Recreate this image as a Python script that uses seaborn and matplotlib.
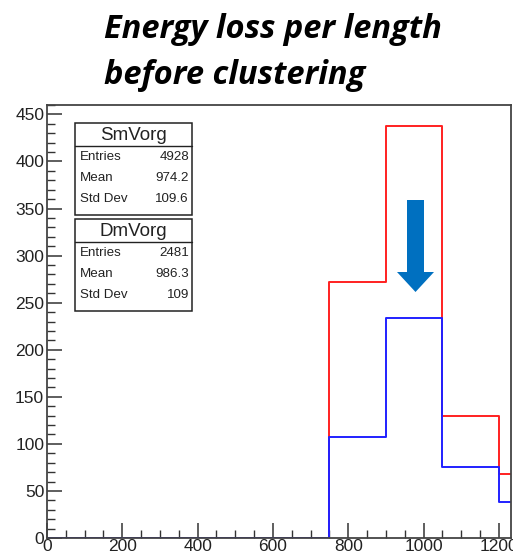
import numpy as np
import pandas as pd
import seaborn as sns
import matplotlib.pyplot as plt
from matplotlib.patches import FancyArrow, Rectangle
from matplotlib.ticker import MultipleLocator

# Binned energy-loss-per-length histograms (bin width 150)
bin_edges = [0, 150, 300, 450, 600, 750, 900, 1050, 1200, 1350]
sm_counts = [0, 0, 0, 0, 0, 272, 438, 130, 68]
dm_counts = [0, 0, 0, 0, 0, 107, 234, 75, 38]

sm_stats = {"name": "SmVorg", "Entries": "4928", "Mean": "974.2", "Std Dev": "109.6"}
dm_stats = {"name": "DmVorg", "Entries": "2481", "Mean": "986.3", "Std Dev": "109"}

title_lines = ["Energy loss per length", "before clustering"]

centers = [(a + b) / 2 for a, b in zip(bin_edges[:-1], bin_edges[1:])]
df = pd.DataFrame({
    "x": centers * 2,
    "w": sm_counts + dm_counts,
    "sample": ["SmVorg"] * len(centers) + ["DmVorg"] * len(centers),
})

sns.set_style("ticks")
plt.rcParams["font.family"] = ["Liberation Sans", "DejaVu Sans"]

fig = plt.figure(figsize=(5.13, 5.55), dpi=100)
ax = fig.add_axes([0.0916, 0.0306, 0.9044, 0.7802])

sns.histplot(data=df[df["sample"] == "SmVorg"], x="x", weights="w", bins=bin_edges,
             element="step", fill=False, color="#ff2020", linewidth=1.4, ax=ax)
sns.histplot(data=df[df["sample"] == "DmVorg"], x="x", weights="w", bins=bin_edges,
             element="step", fill=False, color="#2020ff", linewidth=1.4, ax=ax)

ax.set_xlim(0, 1232)
ax.set_ylim(0, 460)
ax.set_xlabel("")
ax.set_ylabel("")

ax.xaxis.set_major_locator(MultipleLocator(200))
ax.xaxis.set_minor_locator(MultipleLocator(50))
ax.yaxis.set_major_locator(MultipleLocator(50))
ax.yaxis.set_minor_locator(MultipleLocator(10))
ax.tick_params(axis="both", which="major", direction="in", length=11, width=1.1,
               color="#333333", labelsize=12.5, labelcolor="#222222", pad=2)
ax.tick_params(axis="both", which="minor", direction="in", length=6, width=1.0,
               color="#333333")
ax.tick_params(axis="x", pad=1)
for s in ax.spines.values():
    s.set_visible(True)
    s.set_color("#444444")
    s.set_linewidth(1.3)


def stat_box(x0, y_top, stats):
    # ROOT-style statistics box in figure pixel coordinates
    w, head, row = 117, 23, 21
    h = head + 3 * row + 6
    def fx(px):
        return px / 513
    def fy(py):
        return 1 - py / 555
    fig.patches.append(Rectangle((fx(x0), fy(y_top + h)), w / 513, h / 555,
                                 transform=fig.transFigure, fill=True, fc="white",
                                 ec="#222222", lw=1.1, zorder=5))
    fig.lines.append(plt.Line2D([fx(x0), fx(x0 + w)], [fy(y_top + head)] * 2,
                                transform=fig.transFigure, color="#222222", lw=1.0, zorder=6))
    fig.text(fx(x0 + w / 2), fy(y_top + head / 2 + 1), stats["name"], ha="center",
             va="center", fontsize=13.5, color="#222222", zorder=7)
    for i, key in enumerate(["Entries", "Mean", "Std Dev"]):
        yy = fy(y_top + head + 11 + i * row)
        fig.text(fx(x0 + 5), yy, key, ha="left", va="center", fontsize=9.6,
                 color="#222222", zorder=7)
        fig.text(fx(x0 + w - 3), yy, stats[key], ha="right", va="center",
                 fontsize=9.6, color="#222222", zorder=7)


stat_box(75, 123, sm_stats)
stat_box(75, 219, dm_stats)

# Blue down arrow marking the peak region
arrow = FancyArrow(415.5 / 513, 1 - 200 / 555, 0, -(93 - 1) / 555, width=17 / 513,
                   head_width=37 / 513, head_length=20 / 555, length_includes_head=True,
                   transform=fig.transFigure, color="#0070C0", lw=0)
fig.patches.append(arrow)

for i, line in enumerate(title_lines):
    fig.text(104 / 513, 1 - (30 + 45 * i) / 555, line, fontsize=23.5, fontweight="bold",
             fontstyle="italic", family=["Open Sans", "DejaVu Sans"], va="center",
             ha="left", color="black")

fig.savefig("out.png", dpi=100)
